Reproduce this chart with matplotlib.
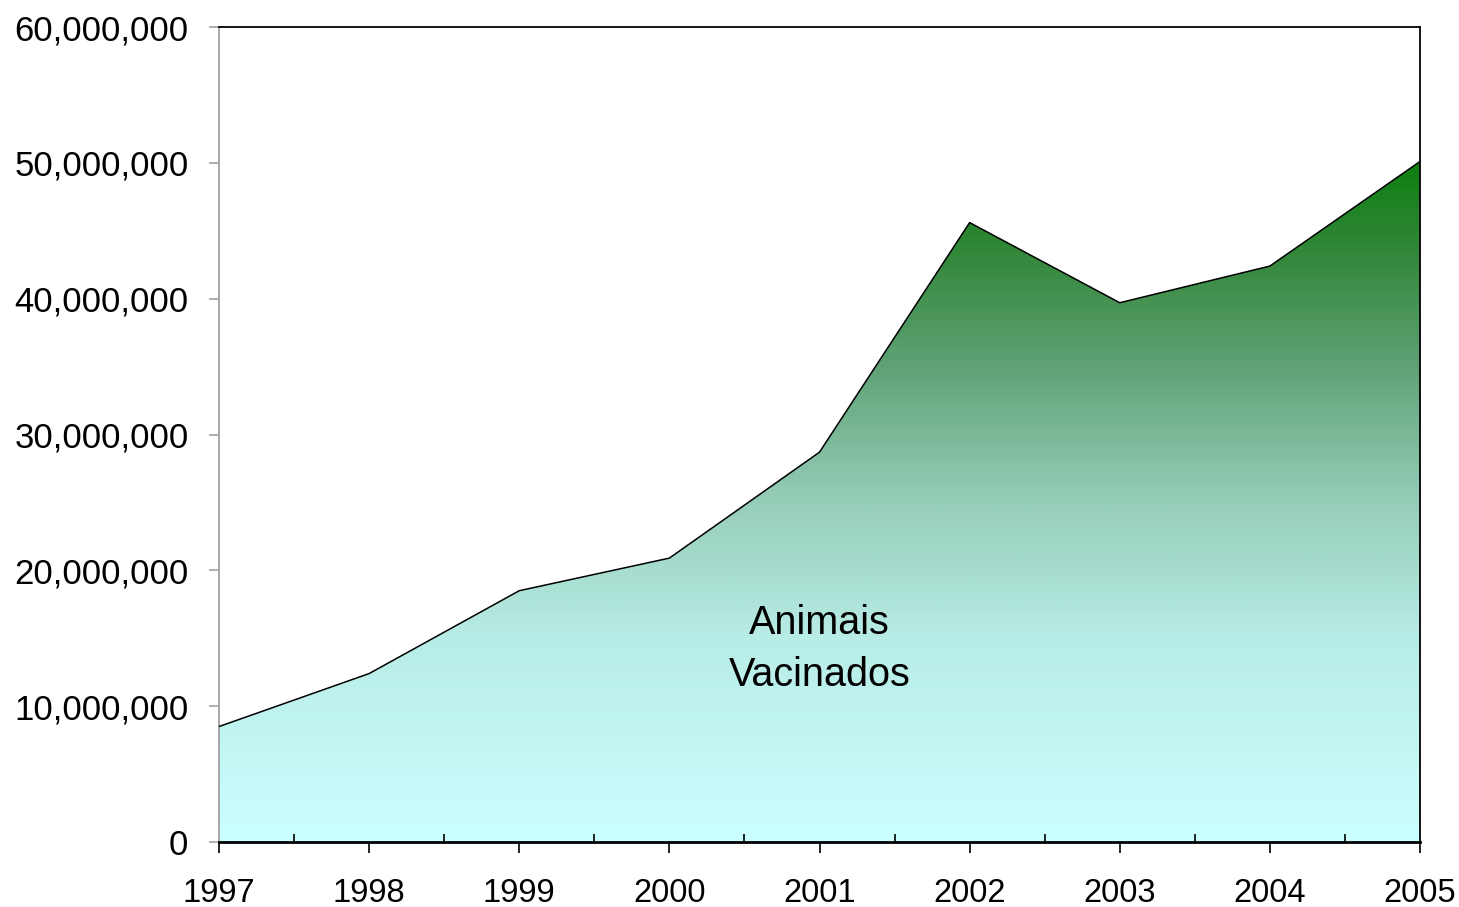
import numpy as np
import matplotlib
matplotlib.use("Agg")
import matplotlib.pyplot as plt
from matplotlib.colors import LinearSegmentedColormap
from matplotlib.ticker import FuncFormatter, MultipleLocator
from matplotlib.patches import PathPatch

years = [1997, 1998, 1999, 2000, 2001, 2002, 2003, 2004, 2005]
vacinados = [8.5e6, 12.4e6, 18.5e6, 20.9e6, 28.7e6, 45.6e6, 39.7e6, 42.4e6, 50.1e6]
yticks = [0, 10e6, 20e6, 30e6, 40e6, 50e6, 60e6]
label = "Animais\nVacinados"

plt.rcParams['font.family'] = ['Liberation Sans', 'DejaVu Sans']

fig = plt.figure(figsize=(14.59, 9.07), dpi=100)
ax = fig.add_axes([219/1459, 65/907, (1420-219)/1459, (842-27)/907])

x = np.array(years, dtype=float)
y = np.array(vacinados)

poly = ax.fill_between(x, 0, y, facecolor='none', edgecolor='none')
cmap = LinearSegmentedColormap.from_list('g', [
    (0.0, '#ccffff'), (0.3, '#b8ece6'), (0.5, '#96cdb8'),
    (0.7, '#5fa276'), (0.85, '#37893f'), (1.0, '#0e7e10')])
grad = np.linspace(0, 1, 512).reshape(-1, 1)
im = ax.imshow(grad, extent=[x[0], x[-1], 0, max(y)], origin='lower',
               aspect='auto', cmap=cmap, zorder=1)
path = poly.get_paths()[0]
clip = PathPatch(path, transform=ax.transData, facecolor='none', edgecolor='none')
ax.add_patch(clip)
im.set_clip_path(clip)
ax.plot(x, y, color='black', lw=1.1, zorder=3)

ax.set_xlim(years[0], years[-1])
ax.set_ylim(0, 60e6)
ax.set_xticks(years)
ax.set_xticklabels([str(v) for v in years])
ax.xaxis.set_minor_locator(MultipleLocator(0.5))
ax.set_yticks(yticks)
ax.yaxis.set_major_formatter(FuncFormatter(lambda v, p: f"{int(v):,}"))

for s in ['top', 'right', 'bottom']:
    ax.spines[s].set_color('black')
    ax.spines[s].set_linewidth(1.3)
ax.spines['left'].set_color('#a0a0a0')
ax.spines['left'].set_linewidth(1.3)
ax.spines['bottom'].set_linewidth(2)
ax.spines['bottom'].set_zorder(4)

ax.tick_params(axis='y', direction='out', length=7, width=1.2, color='#a0a0a0',
               labelsize=25, pad=15)
ax.tick_params(axis='x', which='major', direction='out', length=8, width=1.2,
               color='black', labelsize=23.5, pad=18)
ax.tick_params(axis='x', which='minor', direction='in', length=6, width=1.2,
               color='black')

ax.text(2001, 14.2e6, label, ha='center', va='center', fontsize=28.5,
        linespacing=1.45, zorder=5)

fig.savefig('out.png', dpi=100)
